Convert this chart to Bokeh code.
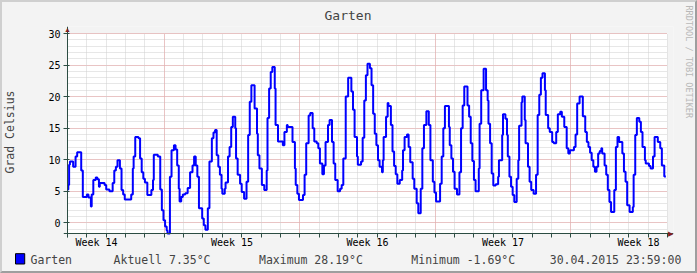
from bokeh.plotting import figure
from bokeh.models import (Range1d, FixedTicker, Grid, Label, Title, Span,
                          BoxAnnotation, InlineStyleSheet)
from bokeh.embed import file_html
from bokeh.resources import INLINE

# ---- data (hours since start of period, step values in deg C) ----
hours = [0, 1, 2, 3, 7, 10, 12, 17, 19, 24, 26, 29, 30, 32, 35, 37, 39, 40, 46, 48,
         52, 56, 58, 60, 62, 65, 67, 69, 71, 79, 81, 82, 84, 88, 90, 92, 94, 96, 99, 104,
         106, 107, 112, 115, 117, 119, 121, 123, 124, 127, 129, 132, 134, 136, 138, 139, 141, 143, 146, 149,
         152, 155, 157, 159, 161, 163, 167, 169, 171, 174, 176, 179, 181, 183, 185, 187, 189, 191, 192, 195,
         196, 199, 201, 203, 205, 208, 209, 211, 214, 216, 219, 222, 224, 226, 228, 232, 235, 236, 238, 241,
         244, 247, 248, 250, 252, 254, 257, 258, 261, 267, 269, 272, 273, 279, 282, 283, 285, 287, 292, 294,
         296, 299, 301, 304, 306, 309, 311, 313, 316, 318, 320, 323, 325, 328, 330, 332, 335, 338, 340, 342,
         345, 348, 352, 354, 356, 359, 360, 364, 366, 368, 370, 372, 375, 377, 379, 381, 383, 385, 387, 390,
         391, 392, 395, 397, 398, 401, 403, 405, 407, 409, 412, 415, 416, 418, 421, 423, 425, 428, 430, 433,
         435, 438, 440, 442, 445, 448, 450, 453, 455, 457, 462, 464, 466, 468, 473, 474, 476, 478, 480, 483,
         486, 488, 490, 492, 496, 498, 500, 502, 504, 506, 510, 511, 513, 516, 519, 521, 522, 524, 526, 528,
         531, 534, 535, 539, 540, 543, 545, 546, 548, 550, 552, 554, 557, 559, 560, 563, 564, 567, 568, 571,
         573, 575, 578, 581, 583, 585, 587, 589, 592, 593, 596, 598, 601, 603, 606, 608, 611, 613, 616, 619,
         621, 623, 628, 630, 632, 635, 639, 642, 644, 646, 648, 650, 652, 654, 656, 658, 660, 662, 663, 666,
         668, 670, 672, 674, 678, 680, 682, 684, 688, 690, 692, 694, 697, 701, 702, 704, 706, 709, 711, 713,
         716, 717, 721, 723, 726, 728, 732, 735, 737, 740, 742]
temps = [5.3, 6.0, 9.2, 9.7, 8.9, 10.5, 11.2, 8.3, 4.1, 4.5, 4.0, 2.6, 4.5, 6.8, 7.2, 6.9, 5.7, 6.3, 6.0, 5.3,
         5.0, 6.3, 8.3, 8.9, 9.9, 8.6, 5.2, 4.5, 3.7, 4.5, 8.6, 10.5, 13.6, 13.4, 10.2, 8.0, 7.0, 6.4, 4.4, 5.2,
         6.8, 10.8, 10.5, 5.3, 2.0, 0.4, -0.6, -1.2, -1.69, 7.3, 11.5, 12.3, 11.6, 9.1, 5.4, 3.4, 4.1, 4.5, 4.7, 5.5,
         8.0, 9.1, 10.5, 9.1, 7.3, 2.3, 0.7, -0.4, -1.1, 2.3, 9.7, 13.4, 14.3, 14.7, 10.7, 8.9, 7.6, 5.4, 4.6, 5.4,
         6.4, 10.5, 12.0, 15.2, 16.8, 15.0, 10.2, 7.6, 6.2, 4.9, 3.8, 6.5, 13.9, 19.2, 21.8, 18.1, 14.1, 10.7, 8.6, 6.0,
         5.2, 8.3, 16.6, 21.3, 23.9, 24.7, 21.3, 15.5, 12.9, 12.3, 14.4, 15.5, 15.2, 12.8, 8.6, 6.0, 4.6, 3.6, 4.4, 7.6,
         12.6, 17.0, 17.4, 15.0, 12.9, 12.6, 11.8, 9.4, 7.7, 9.1, 12.8, 15.5, 16.3, 12.8, 9.4, 6.8, 5.0, 5.4, 6.0, 10.2,
         20.0, 23.0, 20.8, 17.9, 13.6, 10.5, 9.2, 9.7, 13.5, 19.4, 23.4, 25.2, 24.5, 21.8, 17.3, 14.1, 12.3, 9.9, 8.9, 8.0,
         9.9, 13.6, 16.8, 19.0, 18.5, 15.5, 11.3, 9.0, 7.7, 6.2, 6.8, 8.3, 11.5, 13.6, 14.0, 12.0, 9.6, 7.0, 5.4, 3.1,
         1.5, 5.4, 11.8, 15.5, 17.7, 15.5, 9.9, 6.5, 4.8, 3.4, 6.2, 10.5, 15.0, 18.5, 15.2, 12.3, 10.2, 8.1, 5.4, 4.5,
         8.0, 15.0, 18.6, 21.6, 18.6, 16.8, 12.6, 9.8, 6.8, 5.0, 8.6, 15.7, 21.0, 24.4, 21.0, 19.4, 15.7, 12.6, 7.8, 5.9,
         6.1, 7.3, 9.9, 13.9, 17.2, 16.5, 13.9, 10.5, 7.3, 5.7, 4.4, 3.3, 7.0, 9.9, 15.4, 19.1, 20.0, 16.3, 12.6, 8.9,
         6.5, 5.2, 4.6, 7.6, 17.1, 20.3, 23.0, 23.7, 21.0, 17.1, 15.0, 14.4, 12.8, 12.6, 14.4, 17.2, 17.6, 16.8, 15.2, 11.8,
         11.0, 11.5, 12.0, 14.0, 18.9, 20.0, 16.9, 14.4, 12.8, 12.0, 11.1, 9.9, 8.9, 8.1, 8.9, 11.0, 11.4, 11.8, 11.0, 9.1,
         7.6, 5.2, 3.3, 1.7, 5.2, 12.0, 13.6, 12.8, 11.0, 8.1, 6.5, 2.8, 1.7, 2.5, 7.6, 13.9, 16.6, 16.0, 14.4, 12.0,
         9.9, 9.4, 9.0, 8.6, 10.5, 13.6, 12.8, 11.8, 9.1, 7.35, 7.35]

period_hours = 744
y_min, y_max = -1.69, 30
week_label_pos = [36, 204, 372, 540, 708]
week_labels = ["Week 14", "Week 15", "Week 16", "Week 17", "Week 18"]
week_grid = [120, 288, 456, 624]
day_grid = list(range(0, 745, 24))
y_major = [0, 5, 10, 15, 20, 25, 30]
y_minor = list(range(-1, 31))

title_text = "Garten"
y_title = "Grad Celsius"
legend_name = "Garten"
stats = ["Aktuell 7.35°C", "Maximum 28.19°C", "Minimum -1.69°C", "30.04.2015 23:59:00"]
watermark = "RRDTOOL / TOBI OETIKER"

MONO = "DejaVu Sans Mono"
BACK = "#F3F3F3"
AXIS = "#2C4D43"
ARROW = "#7F1F1F"
MGRID = "#EBA0A0"
GRID = "#CFCFCF"
NB = "\u00a0"

# frame is a few px larger than the plotting area so the axis arrows fit in it
px_h = 600 / period_hours
px_v = 200 / (y_max - y_min)
x_range = Range1d(-4 / px_h, period_hours + 6 / px_h)
y_range = Range1d(y_min - 4 / px_v, y_max + 7 / px_v)

p = figure(width=697, height=273, output_backend="svg", toolbar_location=None,
           x_range=x_range, y_range=y_range,
           min_border_left=63, min_border_right=24, min_border_top=26, min_border_bottom=36)
p.background_fill_color = BACK
p.border_fill_color = BACK
p.outline_line_color = None

p.add_layout(BoxAnnotation(left=0, right=period_hours, bottom=y_min, top=y_max,
                           fill_color="white", fill_alpha=1, line_color=None, level="underlay"))

# axes (tick labels from the axes; the axis lines themselves are drawn at x=0 / y=min)
xa = p.xaxis[0]
xa.ticker = FixedTicker(ticks=week_label_pos, minor_ticks=day_grid)
xa.major_label_overrides = {pos: lab for pos, lab in zip(week_label_pos, week_labels)}
xa.major_tick_out = 0
xa.major_tick_in = 0
xa.minor_tick_out = 0
xa.minor_tick_in = 4
xa.major_label_standoff = -1
ya = p.yaxis[0]
ya.ticker = FixedTicker(ticks=y_major, minor_ticks=y_minor)
ya.major_tick_out = 0
ya.major_tick_in = 6
ya.minor_tick_out = 0
ya.minor_tick_in = 0
ya.major_label_standoff = 3
ya.axis_label = y_title
ya.axis_label_standoff = 28
ya.axis_label_text_font = MONO
ya.axis_label_text_font_style = "normal"
ya.axis_label_text_font_size = "11.5px"
for ax in (xa, ya):
    ax.axis_line_color = None
    ax.major_tick_line_color = AXIS
    ax.minor_tick_line_color = AXIS
    ax.major_label_text_font = MONO
    ax.major_label_text_font_size = "10px"
    ax.major_label_text_color = "black"
p.add_layout(Span(location=0, dimension="height", line_color=AXIS, line_width=1))
p.add_layout(Span(location=y_min, dimension="width", line_color=AXIS, line_width=1))

# grids
p.xgrid.visible = False
p.ygrid.visible = False
yg = Grid(dimension=1, ticker=FixedTicker(ticks=y_major, minor_ticks=y_minor),
          cross_bounds=(0, period_hours),
          grid_line_color=MGRID, grid_line_dash="1 1",
          minor_grid_line_color=GRID, minor_grid_line_dash="1 1")
xg = Grid(dimension=0, ticker=FixedTicker(ticks=week_grid, minor_ticks=day_grid),
          cross_bounds=(y_min, y_max),
          grid_line_color=MGRID, grid_line_dash="1 1",
          minor_grid_line_color=GRID, minor_grid_line_dash="1 1")
p.add_layout(yg)
p.add_layout(xg)

# data line
p.step(x=hours, y=temps, mode="after", line_width=2, line_color="#0000FF")

# arrow heads (inside the enlarged frame)
p.add_layout(Label(x=4, y=208, x_units="screen", y_units="screen", text="\u25B2",
                   text_font_size="7px", text_align="center", text_baseline="middle",
                   text_color=ARROW))
p.add_layout(Label(x=607, y=4.5, x_units="screen", y_units="screen", text="\u25B6",
                   text_font_size="7px", text_align="center", text_baseline="middle",
                   text_color=ARROW))

# title
p.add_layout(Title(text=title_text, align="left", offset=261, standoff=7,
                   text_font=MONO, text_font_size="13px", text_font_style="normal"), "above")

# watermark
p.add_layout(Title(text=watermark, align="left", offset=-21, standoff=-40, vertical_align="top",
                   text_font=MONO, text_font_size="8.5px", text_font_style="normal",
                   text_color="#B8B8B8"), "right")

# legend swatch (coloured box) and legend line
swatch = Title(text=NB, align="left", offset=-48, standoff=-53, padding=4,
               text_font=MONO, text_font_size="2px",
               background_fill_color="#0000FF", border_line_color="black")
legend_text = (legend_name + NB * 6 + stats[0] + NB * 7 + stats[1] + NB * 7 + stats[2]
               + NB * 5 + stats[3]).replace(" ", NB)
legend_line = Title(text=legend_text, align="left", offset=-33, standoff=1,
                    text_font=MONO, text_font_size="11.5px", text_font_style="normal")
p.below = [swatch, xa, legend_line]

p.stylesheets = [InlineStyleSheet(css=":host::after {content:''; position:absolute; left:0; top:0; "
                                      "width:697px; height:273px; box-sizing:border-box; border-style:solid; "
                                      "border-width:2px; border-color:#CFCFCF #9E9E9E #9E9E9E #CFCFCF; "
                                      "pointer-events:none; z-index:10;}")]

open("out.html", "w").write(file_html(p, INLINE))
